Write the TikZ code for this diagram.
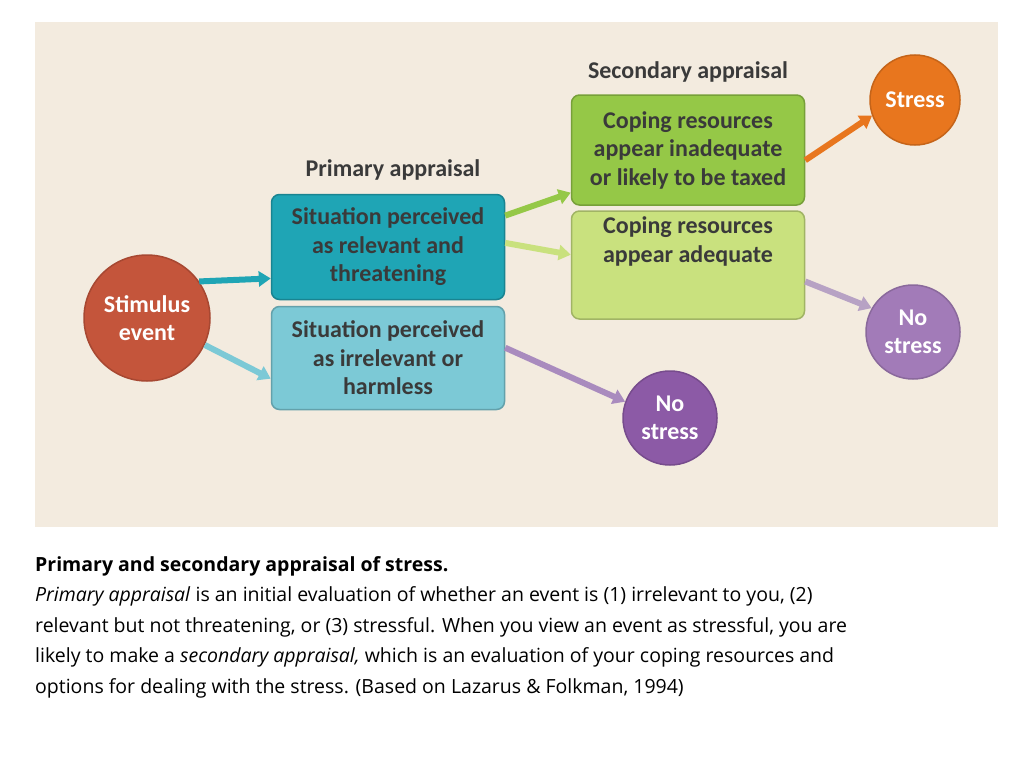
\documentclass[tikz,border=0pt]{standalone}
\usepackage{fontspec}
\setmainfont{Carlito}
\newfontfamily\capfont{Open Sans}
\usetikzlibrary{arrows.meta}
\definecolor{bg}{HTML}{F3EBDF}
\definecolor{stim}{HTML}{C4553B}
\definecolor{teal1}{HTML}{1FA5B5}
\definecolor{teal2}{HTML}{7CC9D6}
\definecolor{green1}{HTML}{95C847}
\definecolor{green2}{HTML}{C9E17E}
\definecolor{orng}{HTML}{E8761E}
\definecolor{purp}{HTML}{8C5AA6}
\definecolor{purpl}{HTML}{A27BB8}
\definecolor{purpa}{HTML}{A98BBE}
\definecolor{purpb}{HTML}{B7A2C4}
\definecolor{txt}{HTML}{3A3A3A}
\tikzset{
 box/.style={rounded corners=8pt, minimum width=233pt, draw=#1!80!black, line width=1.5pt, fill=#1, align=center, font=\fontsize{24}{28.5}\selectfont\bfseries, text=txt},
 circ/.style={circle, fill=#1, draw=#1!85!black, line width=1.5pt, align=center, font=\fontsize{24}{28.5}\selectfont\bfseries, text=white},
 head/.style={font=\fontsize{24}{28}\selectfont\bfseries, text=txt},
 arr/.style={-{Triangle[width=15pt,length=12pt]}, line width=6pt, draw=#1},
}
\begin{document}
\begin{tikzpicture}[x=1pt,y=-1pt]
\useasboundingbox (0,0) rectangle (1024,768);
\fill[bg] (35,22) rectangle (998,527);
\node[circ=stim, minimum size=126pt] (stim) at (147,318) {Stimulus\\event};
\node[box=teal1, minimum height=105pt] (pt) at (388,247) {Situation perceived\\as relevant and\\threatening};
\node[box=teal2, minimum height=103pt] (pl) at (388,358) {Situation perceived\\as irrelevant or\\harmless};
\node[head] (ph) at (393,170) {Primary appraisal};
\node[box=green1, minimum height=110pt] (gt) at (688,150) {Coping resources\\appear inadequate\\or likely to be taxed};
\node[box=green2, minimum height=108pt] (gb) at (688,265) {Coping resources\\appear adequate\\[22pt]};
\node[head] (sh) at (688,72) {Secondary appraisal};
\node[circ=orng, minimum size=90pt] (st) at (915,100) {Stress};
\node[circ=purpl, minimum size=94pt] (ns1) at (913,332) {No\\stress};
\node[circ=purp, minimum size=94pt] (ns2) at (670,418) {No\\stress};
\draw[arr=teal1] (stim.35) -- (pt.195);
\draw[arr=teal2] (stim.-25) -- (pl.190);
\draw[arr=green1] (pt.15) -- (gt.200);
\draw[arr=green2] (pt.2) -- (gb.175);
\draw[arr=purpa] (pl.5) -- (ns2.160);
\draw[arr=orng] (gt.-5) -- (st.200);
\draw[arr=purpb] (gb.-8) -- (ns1.150);
\node[anchor=north west, align=left, font=\capfont\fontsize{19.5}{30.5}\selectfont, inner sep=0pt] (cap) at (35,556)
{\textbf{Primary and secondary appraisal of stress.}\\
\textit{Primary appraisal} is an initial evaluation of whether an event is (1) irrelevant to you, (2)\\
relevant but not threatening, or (3) stressful. When you view an event as stressful, you are\\
likely to make a \textit{secondary appraisal,} which is an evaluation of your coping resources and\\
options for dealing with the stress. (Based on Lazarus \& Folkman, 1994)};
\end{tikzpicture}
\end{document}
